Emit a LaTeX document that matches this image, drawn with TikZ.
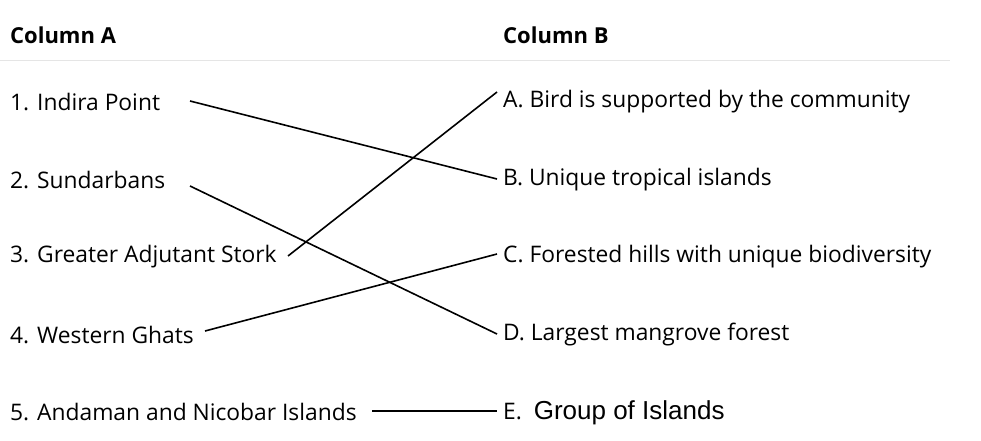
\documentclass[tikz,border=0pt]{standalone}
\usepackage{fontspec}
\setmainfont{Open Sans}
\newfontfamily\arialfont{Liberation Sans}
\begin{document}
\begin{tikzpicture}[x=1pt,y=-1pt,
  item/.style={anchor=west,inner sep=0pt,font=\fontsize{22.8}{25}\selectfont},
  head/.style={item,font=\fontsize{22}{25}\selectfont\bfseries},
  link/.style={line width=1.6pt}]
\useasboundingbox (0,0) rectangle (981,441);
\node[head] (ha) at (10,35) {Column A};
\node[head] (hb) at (503,35) {Column B};
\draw[black!10] (0,60) -- (950,60);
\node[item] (a1) at (10,102) {1. Indira Point};
\node[item] (a2) at (10,180) {2. Sundarbans};
\node[item] (a3) at (10,257) {3. Greater Adjutant Stork};
\node[item] (a4) at (10,335) {4. Western Ghats};
\node[item] (a5) at (10,412) {5. Andaman and Nicobar Islands};
\node[item] (b1) at (503,102) {A. Bird is supported by the community};
\node[item] (b2) at (503,180) {B. Unique tropical islands};
\node[item] (b3) at (503,257) {C. Forested hills with unique biodiversity};
\node[item] (b4) at (503,335) {D. Largest mangrove forest};
\node[item] (b5) at (503,413) {E.\ \ {\arialfont\fontsize{26}{28}\selectfont Group of Islands}};
% line ends
\coordinate (p1) at (190,101); \coordinate (q2) at (497,179);
\coordinate (p2) at (190,186); \coordinate (q4) at (497,334);
\coordinate (p3) at (288,256); \coordinate (q1) at (497,92);
\coordinate (p4) at (205,331); \coordinate (q3) at (497,254);
\coordinate (p5) at (372,411); \coordinate (q5) at (497,411);
\draw[link] (p1) -- (q2);
\draw[link] (p2) -- (q4);
\draw[link] (p3) -- (q1);
\draw[link] (p4) -- (q3);
\draw[link] (p5) -- (q5);
\end{tikzpicture}
\end{document}
